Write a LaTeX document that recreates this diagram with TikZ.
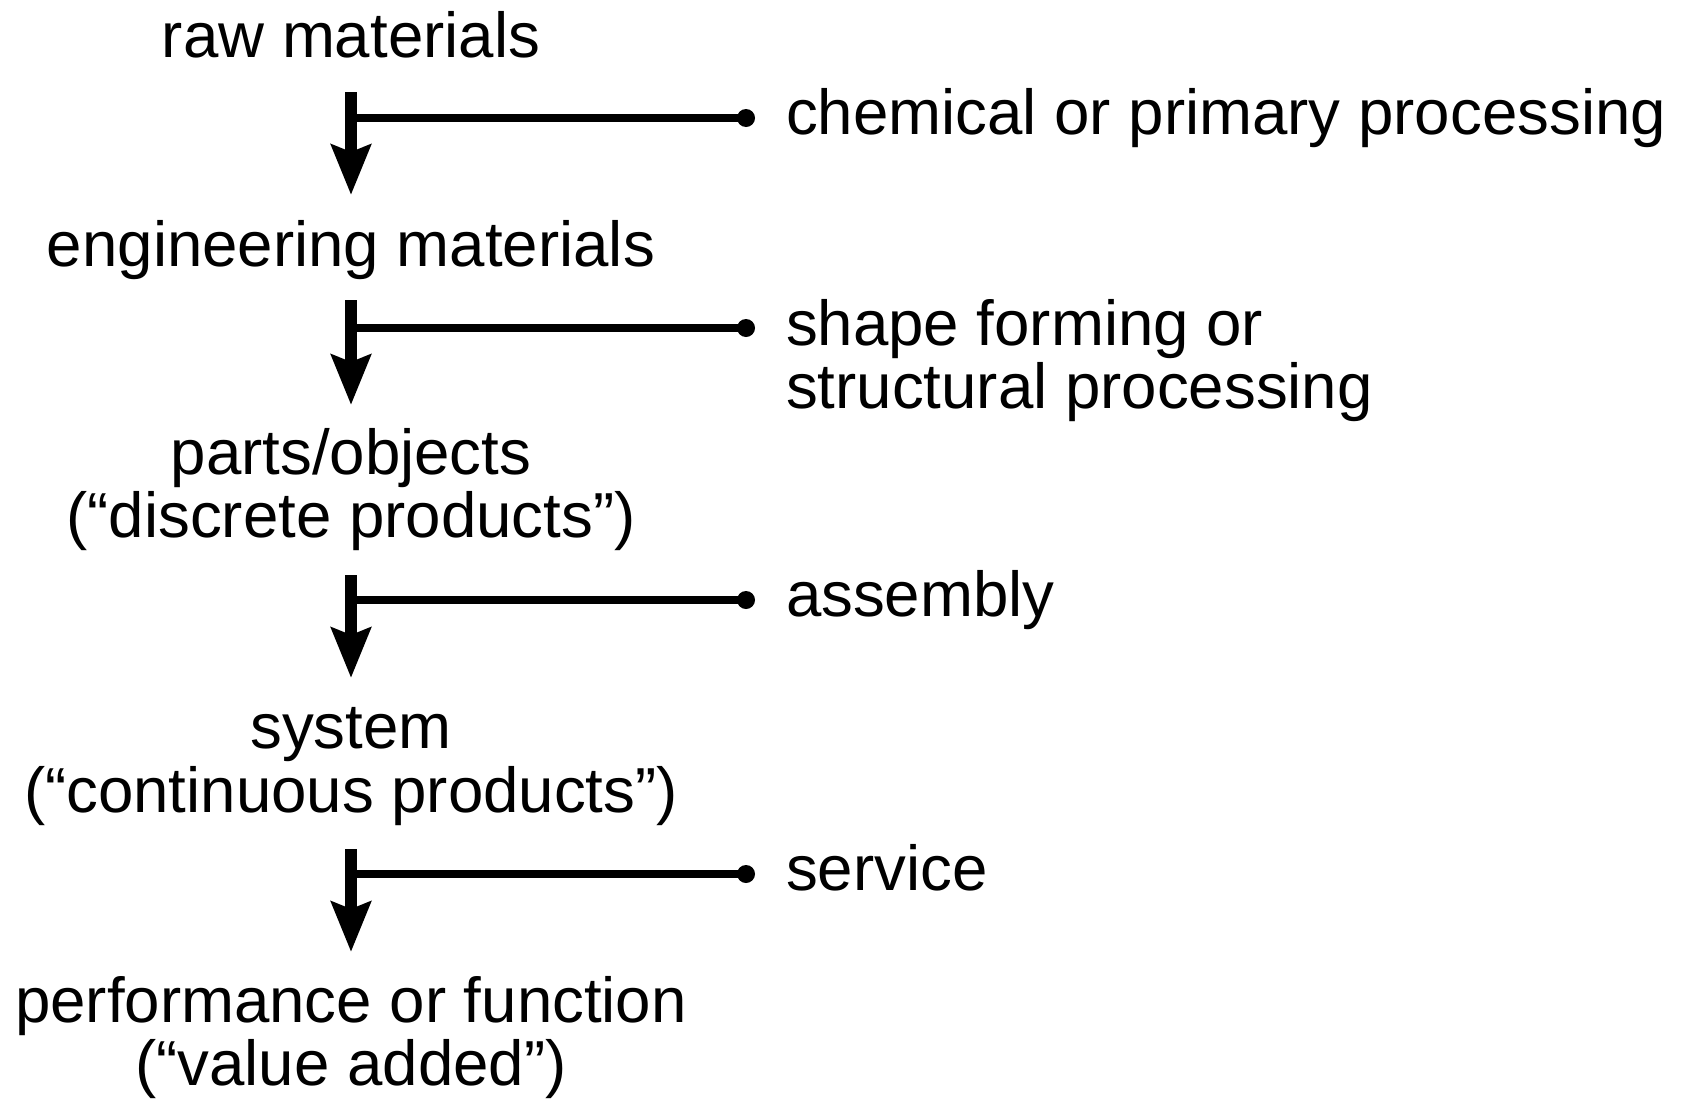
\documentclass[tikz,border=0pt]{standalone}
\usepackage{fontspec}
\setmainfont{Liberation Sans}
\usetikzlibrary{arrows.meta}
\begin{document}
\begin{tikzpicture}[x=0.5pt,y=-0.5pt,
  txt/.style={inner sep=0pt, outer sep=0pt, font=\fontsize{31.8}{31.75}\selectfont},
  stage/.style={txt, align=center, anchor=base},
  proc/.style={txt, align=left, anchor=base west},
  flow/.style={line width=6pt, -{Stealth[length=25pt,width=19.5pt,inset=3.5pt]}},
  tap/.style={line width=4pt},
  dotnode/.style={circle, fill=black, inner sep=0pt, minimum size=9pt}]
\useasboundingbox (0,0) rectangle (1687,1098);

% stages (base anchor = baseline of last line)
\node[stage] (raw)    at (351,57)     {raw materials};
\node[stage] (eng)    at (351,266)    {engineering materials};
\node[stage] (parts)  at (351,537.5)  {parts/objects\\(“discrete products”)};
\node[stage] (system) at (351,812)    {system\\(“continuous products”)};
\node[stage] (perf)   at (351,1085.5) {performance or function\\(“value added”)};

% arrow coordinates
\coordinate (a1s) at (351,92);  \coordinate (a1e) at (351,195);  \coordinate (j1) at (351,118);
\coordinate (a2s) at (351,300); \coordinate (a2e) at (351,405);  \coordinate (j2) at (351,328);
\coordinate (a3s) at (351,575); \coordinate (a3e) at (351,678);  \coordinate (j3) at (351,600);
\coordinate (a4s) at (351,849); \coordinate (a4e) at (351,952);  \coordinate (j4) at (351,874);

% dots
\node[dotnode] (d1) at (746,118) {};
\node[dotnode] (d2) at (746,328) {};
\node[dotnode] (d3) at (746,600) {};
\node[dotnode] (d4) at (746,874) {};

% process labels
\node[proc] (p1) at (786,134.5) {chemical or primary processing};
\node[proc] (p2) at (786,408.5) {shape forming or\\structural processing};
\node[proc] (p3) at (786,616.5) {assembly};
\node[proc] (p4) at (786,890.5) {service};

% connectors
\draw[tap] (j1) -- (d1.center);
\draw[tap] (j2) -- (d2.center);
\draw[tap] (j3) -- (d3.center);
\draw[tap] (j4) -- (d4.center);
\draw[flow] (a1s) -- (a1e);
\draw[flow] (a2s) -- (a2e);
\draw[flow] (a3s) -- (a3e);
\draw[flow] (a4s) -- (a4e);
\end{tikzpicture}
\end{document}
